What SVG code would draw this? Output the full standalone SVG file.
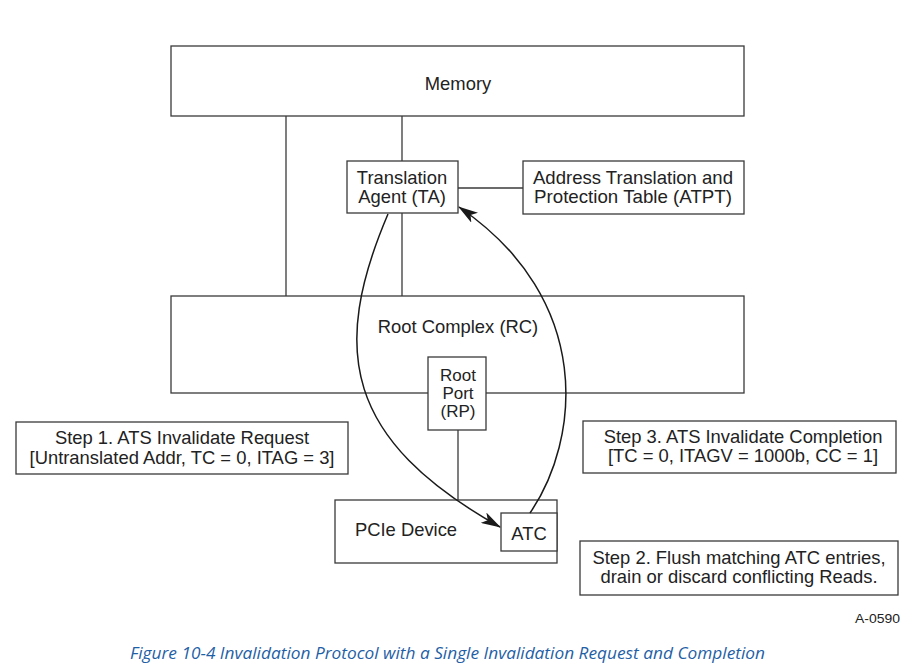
<svg xmlns="http://www.w3.org/2000/svg" width="912" height="667" viewBox="0 0 912 667">
<defs>
<style>
.box{fill:#fff;stroke:#3a3a3a;stroke-width:1.3}
.ln{fill:none;stroke:#3a3a3a;stroke-width:1.3}
.arc{fill:none;stroke:#1a1a1a;stroke-width:1.5}
.t{font-family:"Liberation Sans",Arial,sans-serif;font-size:18.4px;fill:#222;text-anchor:middle}
.rp{font-size:17px}
.cap{font-family:"Open Sans","Noto Sans",sans-serif;font-style:italic;font-size:16px;fill:#1f5fa6}
</style>
<marker id="ah" viewBox="0 0 20 12" refX="19" refY="6" markerWidth="20" markerHeight="12" markerUnits="userSpaceOnUse" orient="auto">
<path d="M0,0 L20,6 L0,12 L5,6 Z" fill="#1a1a1a"/>
</marker>
</defs>
<rect width="912" height="667" fill="#fff"/>
<g id="connectors">
<line class="ln" x1="286" y1="116" x2="286" y2="296"/>
<line class="ln" x1="402" y1="116" x2="402" y2="161"/>
<line class="ln" x1="402" y1="213" x2="402" y2="296"/>
<line class="ln" x1="458" y1="188" x2="523" y2="188"/>
<line class="ln" x1="458" y1="430" x2="458" y2="500"/>
</g>
<g id="memory"><rect class="box" x="171" y="46" width="573" height="70"/><text class="t" x="458" y="90">Memory</text></g>
<g id="rc"><rect class="box" x="171" y="296" width="573" height="97"/><text class="t" x="458" y="333">Root Complex (RC)</text></g>
<g id="ta"><rect class="box" x="347" y="161" width="111" height="52"/><text class="t" x="402" y="184">Translation</text><text class="t" x="402" y="203">Agent (TA)</text></g>
<g id="atpt"><rect class="box" x="523" y="161" width="221" height="53"/><text class="t" x="633" y="184" textLength="200" lengthAdjust="spacingAndGlyphs">Address Translation and</text><text class="t" x="633" y="203" textLength="198" lengthAdjust="spacingAndGlyphs">Protection Table (ATPT)</text></g>
<g id="rp"><rect class="box" x="428" y="357" width="58" height="73"/><text class="t rp" x="458" y="381">Root</text><text class="t rp" x="458" y="399">Port</text><text class="t rp" x="458" y="417">(RP)</text></g>
<g id="pcie"><rect class="box" x="335" y="500" width="222" height="63"/><text class="t" x="406" y="536">PCIe Device</text></g>
<g id="atc"><rect class="box" x="501" y="513" width="56" height="38"/><text class="t" x="529" y="540">ATC</text></g>
<g id="step1"><rect class="box" x="16" y="422" width="332" height="52"/><text class="t" x="182" y="444">Step 1. ATS Invalidate Request</text><text class="t" x="182" y="464">[Untranslated Addr, TC = 0, ITAG = 3]</text></g>
<g id="step3"><rect class="box" x="583" y="421" width="313" height="52"/><text class="t" x="743" y="443">Step 3. ATS Invalidate Completion</text><text class="t" x="743" y="462">[TC = 0, ITAGV = 1000b, CC = 1]</text></g>
<g id="step2"><rect class="box" x="580" y="541" width="318" height="54"/><text class="t" x="739" y="564">Step 2. Flush matching ATC entries,</text><text class="t" x="739" y="583">drain or discard conflicting Reads.</text></g>
<g id="arrows">
<path class="arc" d="M388,214 C330,350 345,440 500,527" marker-end="url(#ah)"/>
<path class="arc" d="M530,513 C580,440 595,300 459,207" marker-end="url(#ah)"/>
</g>
<text x="900" y="623" textLength="45" lengthAdjust="spacingAndGlyphs" style="font-family:'Liberation Sans',Arial,sans-serif;font-size:13px;fill:#222;text-anchor:end">A-0590</text>
<text class="cap" x="130" y="659" textLength="635" lengthAdjust="spacingAndGlyphs">Figure  10-4  Invalidation Protocol with a Single Invalidation Request and Completion</text>
</svg>
